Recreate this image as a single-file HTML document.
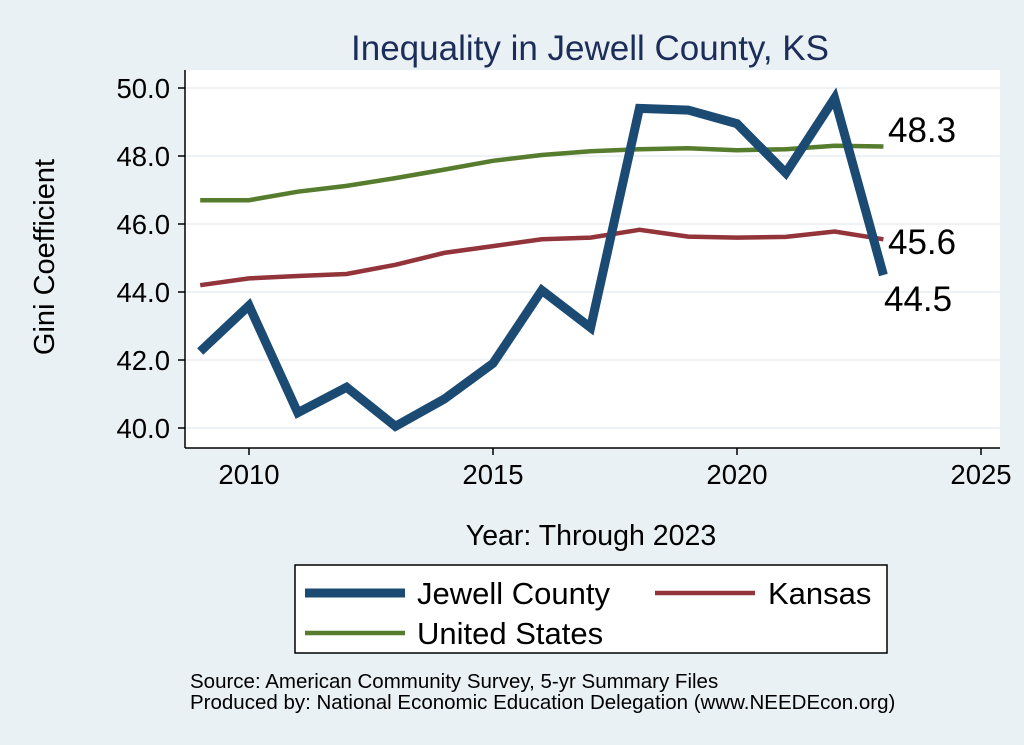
<!DOCTYPE html>
<html><head><meta charset="utf-8"><style>
body{margin:0;background:#eaf1f4;}
svg{display:block;font-family:"Liberation Sans",Arial,sans-serif;}
</style></head><body>
<svg width="1024" height="745" viewBox="0 0 1024 745">
<rect width="1024" height="745" fill="#eaf1f4"/>
<rect x="185" y="70" width="815" height="378" fill="#fff"/>
<text x="590" y="60" font-size="35" fill="#1c2d5a" text-anchor="middle">Inequality in Jewell County, KS</text>
<g stroke="#e8eef1" stroke-width="1.5">
<line x1="185" x2="1000" y1="88" y2="88"/><line x1="185" x2="1000" y1="156" y2="156"/>
<line x1="185" x2="1000" y1="224" y2="224"/><line x1="185" x2="1000" y1="292" y2="292"/>
<line x1="185" x2="1000" y1="360" y2="360"/><line x1="185" x2="1000" y1="428" y2="428"/>
</g>
<g stroke="#000" stroke-width="1.5">
<line x1="185" x2="185" y1="70" y2="448"/><line x1="185" x2="1000" y1="448" y2="448"/>
<line x1="178" x2="185" y1="88" y2="88"/><line x1="178" x2="185" y1="156" y2="156"/>
<line x1="178" x2="185" y1="224" y2="224"/><line x1="178" x2="185" y1="292" y2="292"/>
<line x1="178" x2="185" y1="360" y2="360"/><line x1="178" x2="185" y1="428" y2="428"/>
<line x1="249" x2="249" y1="448" y2="455"/><line x1="493" x2="493" y1="448" y2="455"/>
<line x1="737" x2="737" y1="448" y2="455"/><line x1="981" x2="981" y1="448" y2="455"/>
</g>
<g font-size="27.5" text-anchor="end" fill="#000">
<text x="170" y="98">50.0</text><text x="170" y="166">48.0</text><text x="170" y="234">46.0</text>
<text x="170" y="302">44.0</text><text x="170" y="370">42.0</text><text x="170" y="438">40.0</text>
</g>
<g font-size="27.5" text-anchor="middle" fill="#000">
<text x="249" y="484">2010</text><text x="493" y="484">2015</text><text x="737" y="484">2020</text><text x="981" y="484">2025</text>
</g>
<text x="591" y="545" font-size="28.5" text-anchor="middle">Year: Through 2023</text>
<text transform="translate(54 257) rotate(-90)" font-size="29" text-anchor="middle">Gini Coefficient</text>
<polyline fill="none" stroke="#567c2e" stroke-width="4.5" points="200.2,200.2 249,200.2 297.8,191.7 346.6,185.9 395.4,178.1 444.2,169.6 493,160.8 541.8,155 590.6,151.2 639.4,149.2 688.2,148.2 737,150.2 785.8,149.2 834.6,145.8 883.4,146.5"/>
<polyline fill="none" stroke="#92343a" stroke-width="4.5" points="200.2,285.2 249,278.4 297.8,276 346.6,274 395.4,264.8 444.2,252.9 493,246.1 541.8,239.3 590.6,237.6 639.4,229.8 688.2,236.6 737,237.6 785.8,236.9 834.6,231.5 883.4,239.3"/>
<polyline fill="none" stroke="#1b4a72" stroke-width="9" stroke-linejoin="miter" points="200.2,351.5 249,305.6 297.8,412.7 346.6,387.2 395.4,426.3 444.2,399.1 493,363.4 541.8,290.3 590.6,327.7 639.4,108.4 688.2,110.1 737,123.7 785.8,173 834.6,98.2 883.4,275"/>
<g font-size="35" fill="#000">
<text x="888" y="142">48.3</text><text x="888" y="254">45.6</text><text x="884" y="311">44.5</text>
</g>
<rect x="295" y="565" width="592" height="88" fill="#fff" stroke="#000" stroke-width="1.5"/>
<line x1="305" x2="405" y1="593" y2="593" stroke="#1b4a72" stroke-width="9"/>
<text x="417" y="604" font-size="31">Jewell County</text>
<line x1="655" x2="755" y1="593" y2="593" stroke="#92343a" stroke-width="4.5"/>
<text x="768" y="604" font-size="31">Kansas</text>
<line x1="305" x2="405" y1="633" y2="633" stroke="#567c2e" stroke-width="4.5"/>
<text x="417" y="644" font-size="31">United States</text>
<text x="190" y="688" font-size="20.5">Source: American Community Survey, 5-yr Summary Files</text>
<text x="190" y="709" font-size="20.5">Produced by: National Economic Education Delegation (www.NEEDEcon.org)</text>
</svg>
</body></html>
